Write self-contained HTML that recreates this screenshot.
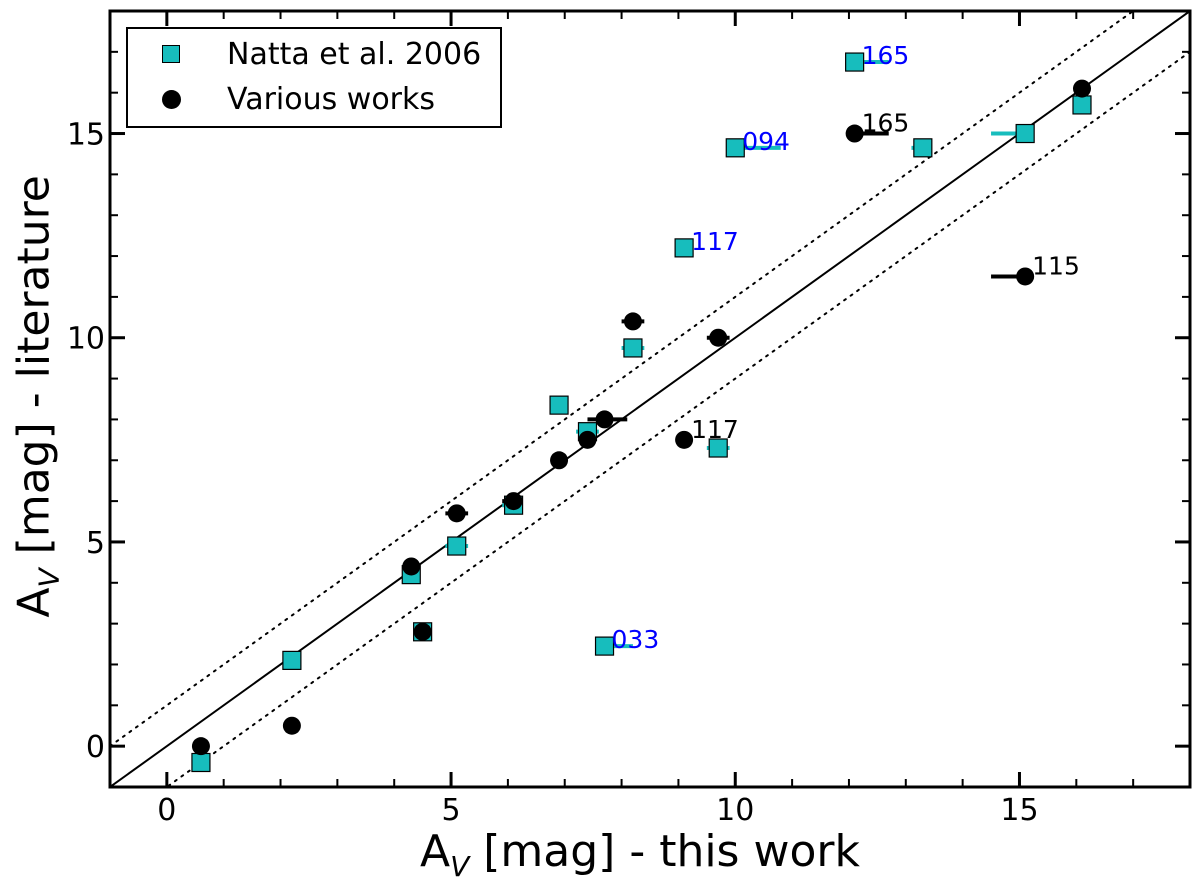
<!DOCTYPE html>
<html><head><meta charset="utf-8"><style>
html,body{margin:0;padding:0;background:#fff;}
svg{display:block;font-family:"DejaVu Sans","Liberation Sans",sans-serif;}
</style></head><body>
<svg id="chart" width="1200" height="893"></svg>
<script>
const nattaX=[0.6,2.2,4.3,4.5,5.1,6.1,6.9,7.4,7.7,8.2,9.1,9.7,10.0,12.1,13.3,15.1,16.1];
const nattaY=[-0.4,2.1,4.2,2.8,4.9,5.9,8.35,7.7,2.45,9.75,12.2,7.3,14.65,16.75,14.65,15.0,15.7];
const nattaXlo=[0.5,2.1,4.2,4.4,4.9,5.9,6.8,7.2,7.6,8.0,9.0,9.5,10.0,12.0,13.1,14.5,16.0];
const nattaXhi=[0.7,2.3,4.4,4.6,5.3,6.2,7.0,7.6,8.2,8.4,9.2,9.9,10.8,12.7,13.4,15.2,16.2];
const nattaLabels=["","","","","","","","","033","","117","","094","165","","",""];
const varX=[0.6,2.2,4.3,4.5,5.1,6.1,6.9,7.4,7.7,8.2,9.1,9.7,12.1,15.1,16.1];
const varY=[0.0,0.5,4.4,2.8,5.7,6.0,7.0,7.5,8.0,10.4,7.5,10.0,15.0,11.5,16.1];
const varXlo=[0.5,2.1,4.2,4.4,4.9,5.9,6.8,7.3,7.4,8.0,9.0,9.5,12.0,14.5,16.0];
const varXhi=[0.7,2.3,4.4,4.6,5.3,6.2,7.0,7.5,8.1,8.4,9.2,9.9,12.7,15.1,16.2];
const varLabels=["","","","","","","","","","","117","","165","115",""];
const xTicks=[0,5,10,15];
const yTicks=[0,5,10,15];

const L=110,R=1190,T=11,B=787;
const xmin=-1,xmax=18,ymin=-1,ymax=18;
const sx=v=>L+(v-xmin)/(xmax-xmin)*(R-L);
const sy=v=>B-(v-ymin)/(ymax-ymin)*(B-T);
const svg=document.getElementById('chart');
const NS='http://www.w3.org/2000/svg';
function mk(tag,attrs,parent){const e=document.createElementNS(NS,tag);for(const k in attrs)e.setAttribute(k,attrs[k]);(parent||svg).appendChild(e);return e;}

const clip=mk('clipPath',{id:'pc'});mk('rect',{x:L,y:T,width:R-L,height:B-T},clip);
const g=mk('g',{'clip-path':'url(#pc)'});
[[0,'none'],[1,'2,6'],[-1,'2,6']].forEach(([o,d],i)=>{
  const l=mk('line',{x1:sx(xmin),y1:sy(xmin+o),x2:sx(xmax),y2:sy(xmax+o),stroke:'#000','stroke-width':2,'stroke-dasharray':d,'stroke-linecap':'round'},g);
  
  
});
nattaX.forEach((x,i)=>{
  const e=mk('line',{x1:sx(nattaXlo[i]),x2:sx(nattaXhi[i]),y1:sy(nattaY[i]),y2:sy(nattaY[i]),stroke:'#17bdbd','stroke-width':4},g);
  
  
});
varX.forEach((x,i)=>{
  const e=mk('line',{x1:sx(varXlo[i]),x2:sx(varXhi[i]),y1:sy(varY[i]),y2:sy(varY[i]),stroke:'#000','stroke-width':4},g);
  
  
});
nattaX.forEach((x,i)=>{
  const r=mk('rect',{x:sx(x)-9,y:sy(nattaY[i])-9,width:18,height:18,fill:'#17bdbd',stroke:'#000','stroke-width':1.2},g);
  
  
});
varX.forEach((x,i)=>{
  const c=mk('circle',{cx:sx(x),cy:sy(varY[i]),r:9,fill:'#000'},g);
  
  
});
nattaLabels.forEach((t,i)=>{if(!t)return;
  const e=mk('text',{x:sx(nattaX[i])+7,y:sy(nattaY[i])+2,fill:'#0000ff','font-size':25});e.textContent=t;
  
  
});
varLabels.forEach((t,i)=>{if(!t)return;
  const e=mk('text',{x:sx(varX[i])+7,y:sy(varY[i])-2,fill:'#000','font-size':25});e.textContent=t;
  
  
});
const fr=mk('rect',{x:L,y:T,width:R-L,height:B-T,fill:'none',stroke:'#000','stroke-width':3});


for(let v=xmin;v<=xmax;v++){const maj=xTicks.includes(v),len=maj?15:8;
  mk('line',{x1:sx(v),x2:sx(v),y1:B,y2:B-len,stroke:'#000','stroke-width':maj?3:2});
  mk('line',{x1:sx(v),x2:sx(v),y1:T,y2:T+len,stroke:'#000','stroke-width':maj?3:2});}
for(let v=ymin;v<=ymax;v++){const maj=yTicks.includes(v),len=maj?15:8;
  mk('line',{x1:L,x2:L+len,y1:sy(v),y2:sy(v),stroke:'#000','stroke-width':maj?3:2});
  mk('line',{x1:R,x2:R-len,y1:sy(v),y2:sy(v),stroke:'#000','stroke-width':maj?3:2});}
xTicks.forEach(v=>{const t=mk('text',{x:sx(v),y:B+33,'text-anchor':'middle','font-size':30});t.textContent=v;
  
  });
yTicks.forEach(v=>{const t=mk('text',{x:L-5,y:sy(v)+11,'text-anchor':'end','font-size':30});t.textContent=v;
  
  });
</script>
<div style="position:absolute;left:0;top:0;width:1200px;height:893px;pointer-events:none;font-family:'DejaVu Sans','Liberation Sans',sans-serif;">
  <div style="position:absolute;left:420px;top:826px;font-size:44px;white-space:nowrap;">A<sub style="font-size:28px;font-style:italic;">V</sub> [mag] - this work</div>
  <div style="position:absolute;left:-213px;top:368px;width:500px;text-align:center;transform:rotate(-90deg);font-size:44px;white-space:nowrap;">A<sub style="font-size:28px;font-style:italic;">V</sub> [mag] - literature</div>
  <div style="position:absolute;left:126px;top:27px;width:372px;height:97px;border:2px solid #000;background:#fff;">
    <div style="position:absolute;left:0;top:8px;font-size:30px;white-space:nowrap;"><span style="position:absolute;left:34px;top:8px;width:16px;height:16px;background:#17bdbd;border:1.5px solid #000;"></span><span style="position:absolute;left:99px;top:0;">Natta et al. 2006</span></div>
    <div style="position:absolute;left:0;top:53px;font-size:30px;white-space:nowrap;"><span style="position:absolute;left:34px;top:8px;width:19px;height:19px;background:#000;border-radius:50%;"></span><span style="position:absolute;left:99px;top:0;">Various works</span></div>
  </div>
</div>
</body></html>
